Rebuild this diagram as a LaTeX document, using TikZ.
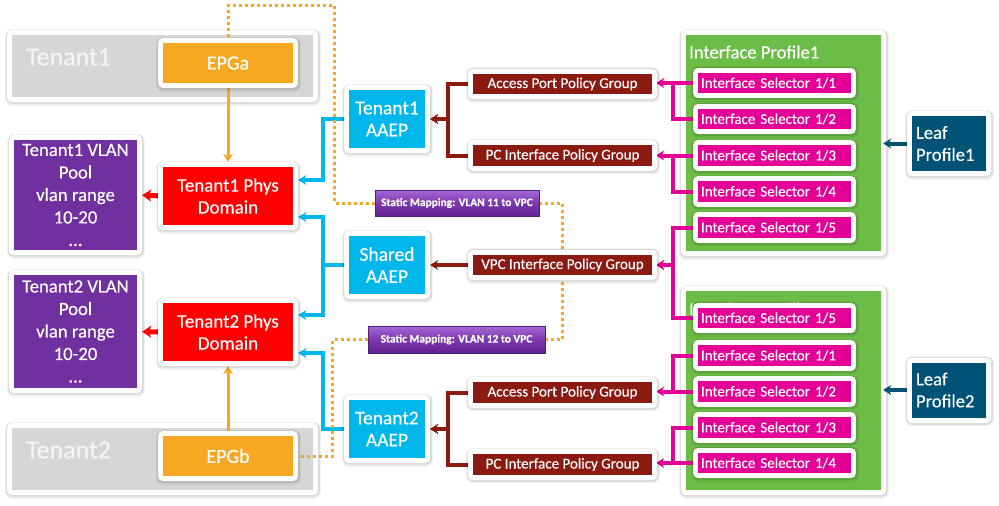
\documentclass[tikz,border=0pt]{standalone}
\usepackage{fontspec}
\setmainfont{Carlito}[FakeBold=0.3]
\usetikzlibrary{arrows.meta}
\pgfdeclarelayer{back}
\pgfdeclarelayer{mid}
\pgfsetlayers{back,mid,main}
\definecolor{tgray}{RGB}{214,214,214}
\definecolor{epgorange}{RGB}{247,168,35}
\definecolor{physred}{RGB}{255,0,0}
\definecolor{poolpurple}{RGB}{112,48,160}
\definecolor{aaepblue}{RGB}{0,183,235}
\definecolor{pgbrown}{RGB}{139,26,16}
\definecolor{selmag}{RGB}{228,0,150}
\definecolor{ipgreen}{RGB}{108,189,72}
\definecolor{leafteal}{RGB}{0,82,118}
\definecolor{smtop}{RGB}{165,105,215}
\definecolor{smmid}{RGB}{125,55,175}
\definecolor{smbot}{RGB}{95,35,140}
\definecolor{smedge}{RGB}{80,30,115}
\tikzset{
  wbox/.style={rectangle, inner sep=0pt, text=white, align=center,
    preaction={draw=black, draw opacity=0.06, line width=15pt, line join=round, transform canvas={shift={(0.5pt,-1.2pt)}}},
    preaction={draw=black, draw opacity=0.08, line width=12.5pt, line join=round, transform canvas={shift={(0.3pt,-0.8pt)}}},
    preaction={draw=white, fill=white, line width=10pt, line join=round}},
  fbig/.style={font=\fontsize{19}{22}\selectfont},
  fmid/.style={font=\fontsize{15}{18}\selectfont},
  tenantbox/.style={wbox, fill=tgray, minimum width=301pt, minimum height=62pt},
  tenanttitle/.style={text=white!96!black, font=\fontsize{26}{30}\selectfont, inner sep=0pt, anchor=west},
  epg/.style={wbox, fill=epgorange, minimum width=130pt, minimum height=40pt, font=\fontsize{20}{24}\selectfont},
  phys/.style={wbox, fill=physred, minimum width=130pt, minimum height=58pt, fbig},
  pool/.style={wbox, fill=poolpurple, minimum width=123pt, font=\fontsize{18.7}{22.5}\selectfont},
  aaep/.style={wbox, fill=aaepblue, minimum width=76pt, minimum height=58pt, font=\fontsize{19.5}{22}\selectfont},
  polgrp/.style={wbox, fill=pgbrown, minimum width=179pt, minimum height=20.5pt, fmid},
  ifprof/.style={wbox, fill=ipgreen, minimum width=195pt},
  proftitle/.style={text=white, font=\fontsize{18.6}{22}\selectfont, inner sep=0pt, anchor=west},
  sel/.style={wbox, fill=selmag, minimum width=153pt, minimum height=20.5pt, text width=147pt, align=left, inner xsep=3pt, fmid},
  leaf/.style={wbox, fill=leafteal, minimum height=55pt, text width=66pt, align=left, inner xsep=4pt, font=\fontsize{18.6}{22}\selectfont},
  smap/.style={rectangle, inner sep=0pt, draw=smedge, line width=0.6pt, top color=smtop, bottom color=smbot, middle color=smmid, text=white, font=\bfseries\fontsize{11.4}{13}\selectfont},
  arrhead/.style={-{Stealth[length=8pt,width=10pt,inset=2.5pt]}},
  orangearr/.style={draw=epgorange, line width=3pt, arrhead, shorten >=5pt},
  redarr/.style={draw=physred, line width=5pt, -{Stealth[length=9pt,width=12pt,inset=2.5pt]}, shorten >=5pt},
  bluearr/.style={draw=aaepblue, line width=4pt, arrhead, shorten >=5pt},
  brownarr/.style={draw=pgbrown, line width=4pt, arrhead, shorten >=5pt},
  magline/.style={draw=selmag, line width=4pt},
  magarr/.style={magline, arrhead, shorten >=4pt},
  tealarr/.style={draw=leafteal, line width=4pt, arrhead, shorten >=2pt},
  dotline/.style={draw=epgorange, line width=3pt, dash pattern=on 3pt off 3pt}
}
\begin{document}
\begin{tikzpicture}[x=1pt,y=-1pt]
\useasboundingbox (0,0) rectangle (999,506);
\begin{pgfonlayer}{back}
\fill[white] (0,0) rectangle (999,506);
\node[tenantbox] (t1box) at (162.5,66) {};
\node[tenanttitle] (t1title) at (26,57) {Tenant1};
\node[tenantbox] (t2box) at (162.5,459) {};
\node[tenanttitle] (t2title) at (26,450) {Tenant2};
\node[ifprof, minimum height=216pt] (ip1) at (783.5,143) {};
\node[proftitle] (ip1title) at (689,52) {Interface Profile1};
\node[ifprof, minimum height=199pt] (ip2) at (783.5,390.5) {};
\node[proftitle] (ip2title) at (689,309) {Interface Profile2};
\end{pgfonlayer}

\node[epg] (epga) at (228,63) {EPGa};
\node[phys] (t1phys) at (228,196) {Tenant1 Phys\\Domain};
\node[pool, minimum height=110pt] (t1pool) at (75.5,195) {Tenant1 VLAN\\Pool\\vlan range\\10-20\\...};
\node[pool, minimum height=113pt] (t2pool) at (75.5,331.5) {Tenant2 VLAN\\Pool\\vlan range\\10-20\\...};
\node[phys] (t2phys) at (228,332) {Tenant2 Phys\\Domain};
\node[epg] (epgb) at (228,456) {EPGb};

\node[aaep] (t1aaep) at (387,119) {Tenant1\\AAEP};
\node[aaep] (shaaep) at (387,265) {Shared\\AAEP};
\node[aaep] (t2aaep) at (387,429) {Tenant2\\AAEP};

\node[polgrp] (appg1) at (562.5,84) {Access Port Policy Group};
\node[polgrp] (pcpg1) at (562.5,155.5) {PC Interface Policy Group};
\node[polgrp] (vpcpg) at (562.5,265) {VPC Interface Policy Group};
\node[polgrp] (appg2) at (562.5,392.5) {Access Port Policy Group};
\node[polgrp] (pcpg2) at (562.5,464.5) {PC Interface Policy Group};

\node[smap, minimum width=164pt, minimum height=26pt] (sm11) at (457,203) {Static Mapping: VLAN 11 to VPC};
\node[smap, minimum width=177pt, minimum height=27pt] (sm12) at (456.5,339.5) {Static Mapping: VLAN 12 to VPC};

\node[sel] (s11) at (774.5,83) {Interface Selector 1/1};
\node[sel] (s12) at (774.5,119) {Interface Selector 1/2};
\node[sel] (s13) at (774.5,155.5) {Interface Selector 1/3};
\node[sel] (s14) at (774.5,191.5) {Interface Selector 1/4};
\node[sel] (s15) at (774.5,227.5) {Interface Selector 1/5};
\node[sel] (q15) at (774.5,318) {Interface Selector 1/5};
\node[sel] (q11) at (774.5,355.5) {Interface Selector 1/1};
\node[sel] (q12) at (774.5,391.5) {Interface Selector 1/2};
\node[sel] (q13) at (774.5,427.5) {Interface Selector 1/3};
\node[sel] (q14) at (774.5,463) {Interface Selector 1/4};

\node[leaf] (leaf1) at (949,143.5) {Leaf\\Profile1};
\node[leaf] (leaf2) at (949,390) {Leaf\\Profile2};

\begin{pgfonlayer}{mid}
\draw[orangearr] (epga.south) -- (t1phys.north);
\draw[orangearr] (epgb.north) -- (t2phys.south);
\draw[redarr] (t1phys.west) -- (t1pool.east);
\draw[redarr] (t2phys.west) -- (t2pool.east);

\draw[bluearr] (t1aaep.west) -- ++(-26,0) |- ([yshift=16pt]t1phys.east);
\draw[bluearr] (shaaep.west) -- ++(-26,0) |- ([yshift=-21pt]t1phys.east);
\draw[bluearr] (shaaep.west) -- ++(-26,0) |- ([yshift=17pt]t2phys.east);
\draw[bluearr] (t2aaep.west) -- ++(-26,0) |- ([yshift=-21pt]t2phys.east);

\draw[brownarr] (appg1.west) -- ++(-25,0) |- (t1aaep.east);
\draw[brownarr] (pcpg1.west) -- ++(-25,0) |- (t1aaep.east);
\draw[brownarr] (vpcpg.west) -- (shaaep.east);
\draw[brownarr] (appg2.west) -- ++(-25,0) |- (t2aaep.east);
\draw[brownarr] (pcpg2.west) -- ++(-25,0) |- (t2aaep.east);

\draw[magarr] (s11.west) -- (s11.west -| appg1.east);
\draw[magline] (s12.west) -| ([xshift=-25pt]s11.west);
\draw[magarr] (s13.west) -- (s13.west -| pcpg1.east);
\draw[magline] (s14.west) -| ([xshift=-25pt]s13.west);
\draw[magarr] (s15.west) -- ++(-25,0) |- (vpcpg.east);
\draw[magarr] (q15.west) -- ++(-25,0) |- (vpcpg.east);
\draw[magline] (q11.west) -| ([xshift=-25pt]q12.west);
\draw[magarr] (q12.west) -- (q12.west -| appg2.east);
\draw[magline] (q13.west) -| ([xshift=-25pt]q14.west);
\draw[magarr] (q14.west) -- (q14.west -| pcpg2.east);

\draw[tealarr] (leaf1.west) -- (leaf1.west -| ip1.east);
\draw[tealarr] (leaf2.west) -- (leaf2.west -| ip2.east);

\draw[dotline] (epga.north) -- ++(0,-37) -| ([xshift=-40pt]sm11.west) -- (sm11.west);
\draw[dotline] (sm11.east) -- ++(23,0) |- (sm12.east);
\draw[dotline] (sm12.west) -- ++(-35,0) |- (epgb.east);
\end{pgfonlayer}
\end{tikzpicture}
\end{document}
